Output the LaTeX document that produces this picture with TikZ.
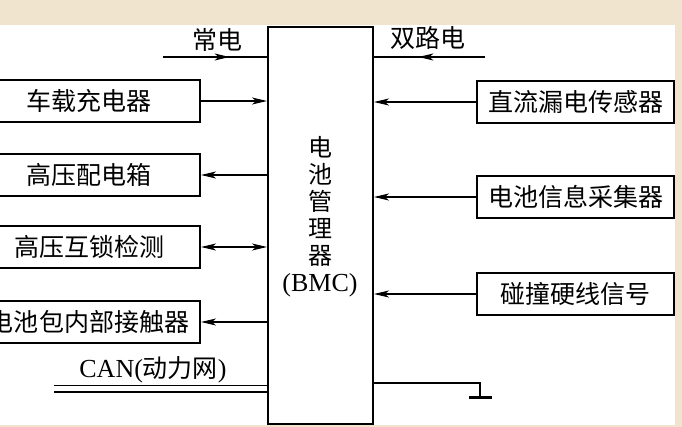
\documentclass[tikz,border=0pt]{standalone}
\usepackage{fontspec}
\setmainfont{Liberation Serif}
\newfontfamily\cjk{Noto Sans CJK SC}
\usetikzlibrary{arrows.meta,decorations.markings}

\definecolor{bgbeige}{RGB}{240,228,206}
\tikzset{
  box/.style={draw, line width=2pt, minimum height=42pt, inner sep=0pt,
    font=\cjk\fontsize{25}{30}\selectfont},
  lbl/.style={font=\cjk\fontsize{25}{30}\selectfont, inner sep=0pt},
  midarrow/.style={postaction={decorate},
    decoration={markings, mark=at position #1 with {\arrow{>}}}},
}

\begin{document}
\begin{tikzpicture}[x=1pt, y=-1pt, >={Stealth[length=15pt,width=7pt,inset=4pt]}, line width=1.3pt]
    \clip (0,0) rectangle (682,427);
    % 底色
    \fill[bgbeige] (0,0) rectangle (682,427);
    \fill[white] (0,25) rectangle (675,425);

    % 电池管理器
    \node[draw, line width=2pt, minimum width=105pt, minimum height=397pt] (bmc) at (320.5,225.5) {};
    \node[align=center, inner sep=0pt, font=\cjk\fontsize{24}{27}\selectfont] (bmclbl) at (320,217)
        {电\\池\\管\\理\\器\\{\rmfamily\fontsize{26}{27}\selectfont (BMC)}};

    % 左侧部件
    \node[box, minimum width=222pt] (charger) at (89,101) {车载充电器};
    \node[box, minimum width=222pt] (pdu) at (89,175) {高压配电箱};
    \node[box, minimum width=222pt] (hvil) at (89,247) {高压互锁检测};
    \node[box, minimum width=222pt] (contactor) at (89,322) {电池包内部接触器};
    \draw[->] (charger.east) -- (charger.east -| bmc.west);
    \draw[<-] (pdu.east) -- (pdu.east -| bmc.west);
    \draw[<->] (hvil.east) -- (hvil.east -| bmc.west);
    \draw[<-] (contactor.east) -- (contactor.east -| bmc.west);

    % 右侧部件
    \node[box, minimum width=197pt] (leak) at (575.5,102) {直流漏电传感器};
    \node[box, minimum width=197pt] (collector) at (575.5,197) {电池信息采集器};
    \node[box, minimum width=197pt] (crash) at (575.5,294) {碰撞硬线信号};
    \draw[->] (leak.west) -- (leak.west -| bmc.east);
    \draw[->] (collector.west) -- (collector.west -| bmc.east);
    \draw[->] (crash.west) -- (crash.west -| bmc.east);

    % 电源
    \coordinate (chang) at (163,57);
    \coordinate (shuang) at (485,57);
    \draw[midarrow=0.64] (chang) -- (chang -| bmc.west);
    \draw[midarrow=0.6] (shuang) -- (shuang -| bmc.east);
    \node[lbl] (changlbl) at (217,40) {常电};
    \node[lbl] (shuanglbl) at (428,38) {双路电};

    % CAN 总线
    \coordinate (can) at (54,388.5);
    \draw[double, double distance=5pt, line width=1.5pt] (can) -- (can -| bmc.west);
    \node[lbl] (canlbl) at (153,370) {{\rmfamily\fontsize{26}{30}\selectfont CAN(}动力网{\rmfamily\fontsize{26}{30}\selectfont )}};

    % 接地
    \coordinate (gndtop) at (480,383);
    \coordinate (gnd) at (480,397);
    \draw (gndtop -| bmc.east) -- (gndtop) -- (gnd);
    \draw[line width=3pt] ([xshift=-11pt]gnd) -- ([xshift=12pt]gnd);
\end{tikzpicture}
\end{document}
